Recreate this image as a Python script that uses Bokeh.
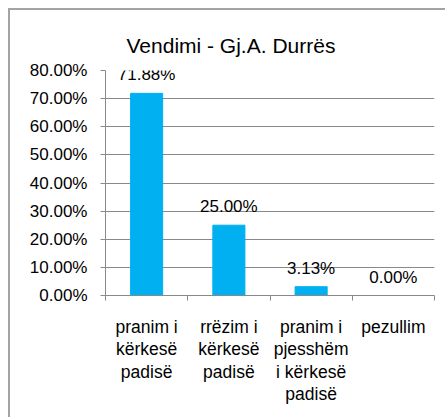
from bokeh.plotting import figure
from bokeh.models import (Range1d, FixedTicker, PrintfTickFormatter, LabelSet, Title,
                          ColumnDataSource, InlineStyleSheet)
from bokeh.core.properties import value
from bokeh.embed import file_html
from bokeh.resources import INLINE

title_text = "Vendimi - Gj.A. Durrës"
categories = ["pranim i\nkërkesë\npadisë", "rrëzim i\nkërkesë\npadisë",
              "pranim i\npjesshëm\ni kërkesë\npadisë", "pezullim"]
values = [71.88, 25.00, 3.13, 0.00]
y_ticks = [0, 10, 20, 30, 40, 50, 60, 70, 80]

FONT = "Liberation Sans"
GRID = "#898989"
BAR = "#00B0F0"

n = len(categories)
centers = [i + 0.5 for i in range(n)]
edges = [float(i) for i in range(n + 1)]

src = ColumnDataSource(dict(x=centers, top=values,
                            label=["%.2f%%" % v for v in values]))

p = figure(width=437, height=409, x_range=Range1d(0, n), y_range=Range1d(0, 80),
           output_backend="svg", toolbar_location=None,
           min_border_left=95, min_border_right=13, min_border_top=60, min_border_bottom=124)
p.stylesheets = [InlineStyleSheet(css=":host { margin: 8px 0 0 8px; "
                                      "border-top: 2px solid #a3a3a3; "
                                      "border-left: 2px solid #a3a3a3; }")]
p.outline_line_color = None
p.background_fill_color = "white"
p.border_fill_color = "white"
p.title.text = ""

# spacer between frame and title, then the title itself
p.add_layout(Title(text=" ", text_font_size="11px", standoff=0), "above")
p.add_layout(Title(text=title_text, text_font=FONT, text_font_size="21px",
                   text_font_style="normal", text_color="#000000",
                   align="left", offset=21, standoff=0), "above")

p.vbar(x="x", top="top", width=0.39, bottom=0, source=src, color=BAR, line_color=BAR)

labels = LabelSet(x="x", y="top", text="label", source=src, text_align="center",
                  text_baseline="alphabetic", y_offset=13, text_font=value(FONT),
                  text_font_size="17px", text_color="#000000")
p.add_layout(labels)

# y axis
p.yaxis.ticker = FixedTicker(ticks=y_ticks)
p.yaxis.formatter = PrintfTickFormatter(format="%.2f%%")
p.yaxis.axis_line_color = GRID
p.yaxis.major_tick_line_color = GRID
p.yaxis.major_tick_out = 5
p.yaxis.major_tick_in = 0
p.yaxis.minor_tick_line_color = None
p.yaxis.major_label_standoff = 13
p.yaxis.major_label_text_font = FONT
p.yaxis.major_label_text_font_size = "17px"
p.yaxis.major_label_text_color = "#000000"

# x axis
p.xaxis.ticker = FixedTicker(ticks=centers, minor_ticks=edges)
p.xaxis.major_label_overrides = {c: lab for c, lab in zip(centers, categories)}
p.xaxis.axis_line_color = GRID
p.xaxis.major_tick_line_color = None
p.xaxis.minor_tick_line_color = GRID
p.xaxis.minor_tick_out = 5
p.xaxis.minor_tick_in = 0
p.xaxis.major_label_standoff = 15
p.xaxis.major_label_text_font = FONT
p.xaxis.major_label_text_font_size = "17.5px"
p.xaxis.major_label_text_line_height = 1.13
p.xaxis.major_label_text_color = "#000000"

p.xgrid.grid_line_color = None
p.ygrid.grid_line_color = GRID
p.ygrid.ticker = FixedTicker(ticks=y_ticks)

open("out.html", "w").write(file_html(p, INLINE))
